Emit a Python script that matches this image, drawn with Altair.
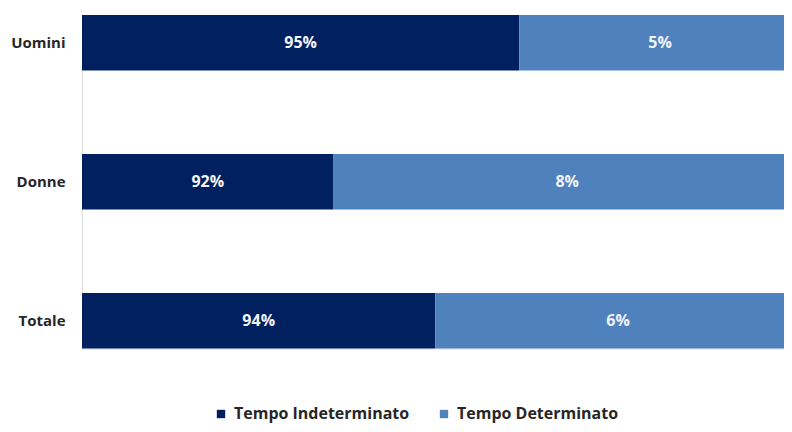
import altair as alt
import pandas as pd

categories = ["Uomini", "Donne", "Totale"]
series = ["Tempo Indeterminato", "Tempo Determinato"]
indeterminato = [95.3, 92.2, 93.9]
determinato = [4.7, 7.8, 6.1]
AXIS_MIN = 88.0
AXIS_MAX = 99.72
colors = ["#002060", "#4F81BD"]

rows = []
for c, a, b in zip(categories, indeterminato, determinato):
    rows.append({"cat": c, "serie": series[0], "start": AXIS_MIN, "end": a,
                 "mid": (AXIS_MIN + a) / 2, "label": f"{round(a)}%"})
    rows.append({"cat": c, "serie": series[1], "start": a, "end": min(a + b, AXIS_MAX),
                 "mid": (a + a + b) / 2, "label": f"{round(b)}%"})
df = pd.DataFrame(rows)

FONT = "Open Sans"

xscale = alt.Scale(domain=[AXIS_MIN, AXIS_MAX], nice=False, zero=False)
yscale = alt.Scale(paddingInner=0.6, paddingOuter=0)
yaxis = alt.Axis(domain=False, ticks=False, grid=False, labelPadding=17,
                 labelFont=FONT, labelFontSize=15, labelFontWeight="bold",
                 labelColor="#262626", domainOpacity=0)
yenc = alt.Y("cat:N", sort=categories, title=None, scale=yscale, axis=yaxis)

bars = alt.Chart(df).mark_bar(strokeWidth=0).encode(
    x=alt.X("start:Q", scale=xscale, axis=None),
    x2="end:Q",
    y=yenc,
    color=alt.Color("serie:N", scale=alt.Scale(domain=series, range=colors),
                    sort=series,
                    legend=alt.Legend(title=None, orient="none", direction="horizontal",
                                      legendX=131, legendY=391, padding=0,
                                      symbolType="square", symbolSize=70,
                                      symbolStrokeWidth=0, symbolOpacity=1,
                                      labelFont=FONT, labelFontSize=16, labelLimit=0,
                                      labelFontWeight="bold", labelColor="#262626",
                                      labelOffset=5, columnPadding=26)),
)

text = alt.Chart(df).mark_text(font=FONT, fontSize=16, fontWeight="bold",
                               color="#F0F4FA").encode(
    x=alt.X("mid:Q", scale=xscale, axis=None),
    y=yenc,
    text="label:N",
)

chart = (bars + text).properties(
    width=702, height=333.6,
    autosize=alt.AutoSizeParams(type="none"),
    padding={"left": 74, "top": 7, "right": 0, "bottom": 75},
).configure_view(stroke=None, strokeOpacity=0, strokeWidth=0).configure_axis(
    grid=False, domain=False, ticks=False
).configure(background="white")

chart.save("out.html", embed_options={"renderer": "svg", "actions": False})
